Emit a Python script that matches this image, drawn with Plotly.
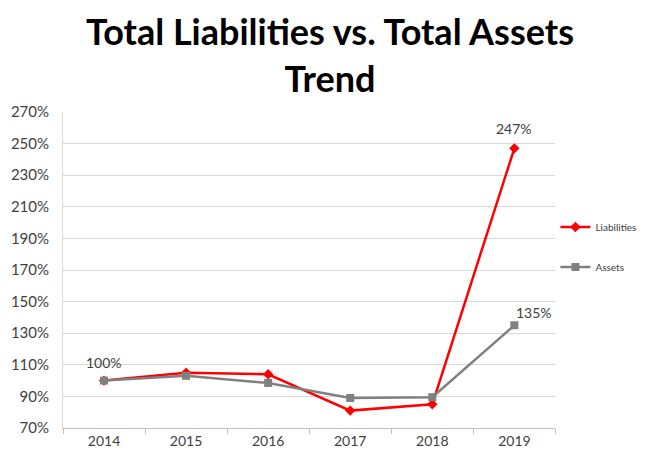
import plotly.graph_objects as go

years = [2014, 2015, 2016, 2017, 2018, 2019]
year_labels = ['2014', '2015', '2016', '2017', '2018', '2019']
liabilities = [100, 105, 104, 81, 85, 247]
assets = [100, 103, 98.5, 89, 89.5, 135]

fig = go.Figure()

fig.add_trace(go.Scatter(
    x=years, y=liabilities, name='Liabilities', legendgroup='l',
    mode='lines+markers',
    line=dict(color='#ff0000', width=2.5),
    marker=dict(symbol='diamond', size=8, color='#ff0000')
))
fig.add_trace(go.Scatter(
    x=years, y=assets, name='Assets', legendgroup='a',
    mode='lines+markers',
    line=dict(color='#808080', width=2.5),
    marker=dict(symbol='square', size=8, color='#808080')
))

# data labels
fig.add_annotation(x=years[0], y=liabilities[0], text='100%', showarrow=False,
                   yshift=18, font=dict(size=14, color='#404040'))
fig.add_annotation(x=years[-1], y=liabilities[-1], text='247%', showarrow=False,
                   yshift=20, font=dict(size=14, color='#404040'))
fig.add_annotation(x=years[-1], y=assets[-1], text='135%', showarrow=False,
                   xshift=20, yshift=13, font=dict(size=14, color='#404040'))

# page body has an 8px margin, so figure is a bit smaller than the window
fig.update_layout(
    title=dict(text='<b>Total Liabilities vs. Total Assets<br>Trend</b>',
               x=0.5, xanchor='center', y=0.918, yanchor='middle',
               font=dict(family='Lato, Open Sans, sans-serif', size=36, color='#000000')),
    width=644, height=449,
    margin=dict(l=55, r=87, t=104, b=29),
    paper_bgcolor='white', plot_bgcolor='white',
    font=dict(family='Lato, Open Sans, sans-serif', size=15, color='#404040'),
    legend=dict(xref='container', x=0.85, xanchor='left', y=0.573, yanchor='middle',
                font=dict(size=10, color='#404040'),
                tracegroupgap=21, itemwidth=30),
    showlegend=True,
)
fig.update_xaxes(
    range=[years[0] - 0.5, years[-1] + 0.5],
    tickmode='array', tickvals=years, ticktext=year_labels,
    tickfont=dict(size=14), automargin=False,
    showgrid=False, showline=True, linecolor='#bfbfbf', linewidth=1,
    ticks='', zeroline=False,
    minor=dict(tickmode='array', tickvals=[y - 0.5 for y in years] + [years[-1] + 0.5],
               ticks='outside', ticklen=5, tickcolor='#bfbfbf', showgrid=False),
)
fig.update_yaxes(
    range=[70, 270], tick0=70, dtick=20, ticksuffix='%',
    showgrid=True, gridcolor='#d9d9d9', gridwidth=1,
    showline=True, linecolor='#d9d9d9', zeroline=False,
    ticks='', ticklabelstandoff=10, automargin=False,
)

fig.write_html('out.html')
